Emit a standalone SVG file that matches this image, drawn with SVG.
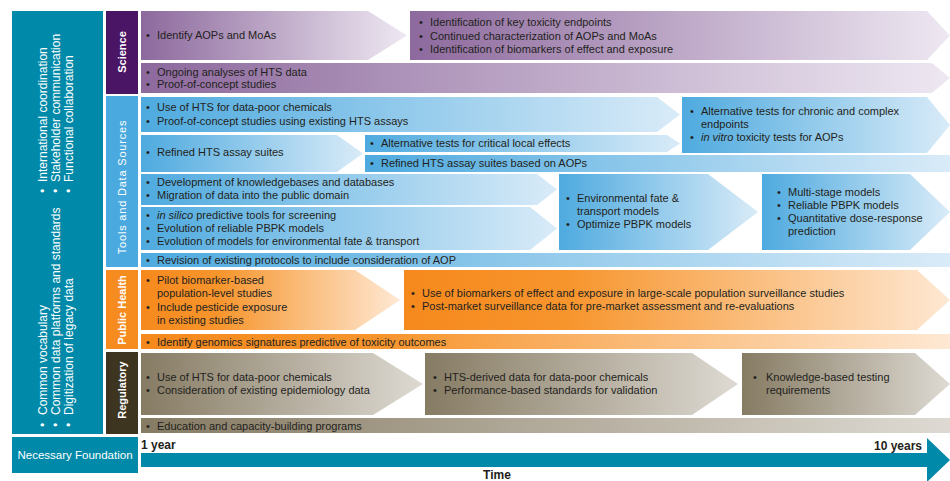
<svg xmlns="http://www.w3.org/2000/svg" width="950" height="481" viewBox="0 0 950 481">
<defs>
<linearGradient id="gPur" x1="0" y1="0" x2="1" y2="0"><stop offset="0" stop-color="#8d699d"/><stop offset="1" stop-color="#eee8f2"/></linearGradient>
<linearGradient id="gBlue" x1="0" y1="0" x2="1" y2="0"><stop offset="0" stop-color="#4eaadf"/><stop offset="1" stop-color="#d9ebf8"/></linearGradient>
<linearGradient id="gOra" x1="0" y1="0" x2="1" y2="0"><stop offset="0" stop-color="#f6891d"/><stop offset="0.3" stop-color="#f7952d"/><stop offset="1" stop-color="#fee8d3"/></linearGradient>
<linearGradient id="gReg" x1="0" y1="0" x2="1" y2="0"><stop offset="0" stop-color="#867b63"/><stop offset="1" stop-color="#dedad3"/></linearGradient>
<style>
text{font-family:"Liberation Sans",Arial,sans-serif;}
.t{font-size:11px;fill:#231f20;}
.w{fill:#ffffff;font-size:12px;}
.cat{fill:#ffffff;font-size:11px;text-anchor:middle;}
.b{font-weight:bold;font-size:12px;fill:#231f20;}
.pur{fill:url(#gPur);}
.blue{fill:url(#gBlue);}
.ora{fill:url(#gOra);}
.reg{fill:url(#gReg);}
.teal{fill:#0089a8;}
</style>
</defs>
<rect width="950" height="481" fill="#ffffff"/>

<g id="foundation-panel">
<rect class="teal" x="12" y="11" width="91" height="423"/>
<g transform="rotate(-90)">
<text class="w" y="47"><tspan x="-193">•</tspan><tspan x="-182">International coordination</tspan></text>
<text class="w" y="60"><tspan x="-193">•</tspan><tspan x="-182">Stakeholder communication</tspan></text>
<text class="w" y="73"><tspan x="-193">•</tspan><tspan x="-182">Functional collaboration</tspan></text>
<text class="w" y="47"><tspan x="-427">•</tspan><tspan x="-415">Common vocabulary</tspan></text>
<text class="w" y="60"><tspan x="-427">•</tspan><tspan x="-415">Common data platforms and standards</tspan></text>
<text class="w" y="73"><tspan x="-427">•</tspan><tspan x="-415">Digitization of legacy data</tspan></text>
</g>
</g>

<g id="necessary-foundation">
<rect class="teal" x="12" y="437" width="126" height="36"/>
<text class="w" x="75" y="459" text-anchor="middle" style="font-size:11.5px">Necessary Foundation</text>
</g>

<g id="cat-science">
<rect x="106" y="11" width="32" height="83" fill="#4a1565"/>
<text class="cat" transform="translate(122,52) rotate(-90)" dy="4" font-weight="bold">Science</text>
</g>
<g id="cat-tools">
<rect x="106" y="96" width="32" height="171" fill="#4aa9de"/>
<text class="cat" transform="translate(122,187) rotate(-90)" dy="4" letter-spacing="0.8">Tools and Data Sources</text>
</g>
<g id="cat-public-health">
<rect x="106" y="270" width="32" height="79" fill="#f68b1f"/>
<text class="cat" transform="translate(122,310) rotate(-90)" dy="4" font-weight="bold">Public Health</text>
</g>
<g id="cat-regulatory">
<rect x="106" y="352" width="32" height="82" fill="#3d3520"/>
<text class="cat" transform="translate(122,390) rotate(-90)" dy="4" font-weight="bold">Regulatory</text>
</g>

<!-- Science -->
<g id="sci-1">
<polygon class="pur" points="141,11 368,11 407,35.5 368,60 141,60"/>
<text class="t" y="39"><tspan x="146">•</tspan><tspan x="157">Identify AOPs and MoAs</tspan></text>
</g>
<g id="sci-2">
<polygon class="pur" points="410,11 927,11 950,35.5 927,60 410,60"/>
<text class="t" y="26"><tspan x="419">•</tspan><tspan x="430">Identification of key toxicity endpoints</tspan></text>
<text class="t" y="39.5"><tspan x="419">•</tspan><tspan x="430">Continued characterization of AOPs and MoAs</tspan></text>
<text class="t" y="53"><tspan x="419">•</tspan><tspan x="430">Identification of biomarkers of effect and exposure</tspan></text>
</g>
<g id="sci-3">
<polygon class="pur" points="141,63 932,63 950,78 932,93 141,93"/>
<text class="t" y="75.5"><tspan x="146">•</tspan><tspan x="157">Ongoing analyses of HTS data</tspan></text>
<text class="t" y="88"><tspan x="146">•</tspan><tspan x="157">Proof-of-concept studies</tspan></text>
</g>

<!-- Tools and Data Sources -->
<g id="tools-1">
<polygon class="blue" points="141,97 657,97 680,114.5 657,132 141,132"/>
<text class="t" y="111"><tspan x="146">•</tspan><tspan x="157">Use of HTS for data-poor chemicals</tspan></text>
<text class="t" y="125"><tspan x="146">•</tspan><tspan x="157">Proof-of-concept studies using existing HTS assays</tspan></text>
</g>
<g id="tools-2">
<polygon class="blue" points="141,135 337,135 363,153.5 337,172 141,172"/>
<text class="t" y="156"><tspan x="146">•</tspan><tspan x="157">Refined HTS assay suites</tspan></text>
</g>
<g id="tools-3">
<polygon class="blue" points="365,135 667,135 680,143.5 667,152 365,152"/>
<text class="t" y="147"><tspan x="370">•</tspan><tspan x="381">Alternative tests for critical local effects</tspan></text>
</g>
<g id="tools-4">
<polygon class="blue" points="682,97 927,97 950,125 927,153 682,153"/>
<text class="t" y="115"><tspan x="690">•</tspan><tspan x="701">Alternative tests for chronic and complex</tspan></text>
<text class="t" y="128"><tspan x="701">endpoints</tspan></text>
<text class="t" y="141"><tspan x="690">•</tspan><tspan x="701" font-style="italic">in vitro</tspan><tspan> toxicity tests for AOPs</tspan></text>
</g>
<g id="tools-5">
<rect class="blue" x="365" y="155" width="585" height="17"/>
<text class="t" y="167"><tspan x="370">•</tspan><tspan x="381">Refined HTS assay suites based on AOPs</tspan></text>
</g>
<g id="tools-6">
<polygon class="blue" points="141,174 537,174 557,189.5 537,205 141,205"/>
<text class="t" y="186"><tspan x="146">•</tspan><tspan x="157">Development of  knowledgebases and databases</tspan></text>
<text class="t" y="199"><tspan x="146">•</tspan><tspan x="157">Migration of data into the public domain</tspan></text>
</g>
<g id="tools-7">
<polygon class="blue" points="141,207 530,207 557,228.5 530,250 141,250"/>
<text class="t" y="219"><tspan x="146">•</tspan><tspan x="157" font-style="italic">in silico</tspan><tspan> predictive tools for screening</tspan></text>
<text class="t" y="232"><tspan x="146">•</tspan><tspan x="157">Evolution of reliable PBPK models</tspan></text>
<text class="t" y="245"><tspan x="146">•</tspan><tspan x="157">Evolution of models for environmental fate &amp; transport</tspan></text>
</g>
<g id="tools-8">
<polygon class="blue" points="559,174 708,174 758,212 708,250 559,250"/>
<text class="t" y="202"><tspan x="566">•</tspan><tspan x="577">Environmental fate &amp;</tspan></text>
<text class="t" y="215"><tspan x="577">transport models</tspan></text>
<text class="t" y="228"><tspan x="566">•</tspan><tspan x="577">Optimize PBPK models</tspan></text>
</g>
<g id="tools-9">
<polygon class="blue" points="762,174 910,174 950,212 910,250 762,250"/>
<text class="t" y="196"><tspan x="777">•</tspan><tspan x="788">Multi-stage models</tspan></text>
<text class="t" y="209"><tspan x="777">•</tspan><tspan x="788">Reliable PBPK models</tspan></text>
<text class="t" y="222"><tspan x="777">•</tspan><tspan x="788">Quantitative dose-response</tspan></text>
<text class="t" y="235"><tspan x="788">prediction</tspan></text>
</g>
<g id="tools-10">
<rect class="blue" x="141" y="253" width="809" height="14"/>
<text class="t" y="263.5"><tspan x="146">•</tspan><tspan x="157">Revision of existing protocols to include consideration of AOP</tspan></text>
</g>

<!-- Public Health -->
<g id="ph-1">
<polygon class="ora" points="141,270 355,270 400,300 355,330 141,330"/>
<text class="t" y="284"><tspan x="146">•</tspan><tspan x="157">Pilot biomarker-based</tspan></text>
<text class="t" y="297"><tspan x="157">population-level studies</tspan></text>
<text class="t" y="311"><tspan x="146">•</tspan><tspan x="157">Include pesticide exposure</tspan></text>
<text class="t" y="324"><tspan x="157">in existing studies</tspan></text>
</g>
<g id="ph-2">
<polygon class="ora" points="404,270 917,270 950,300 917,330 404,330"/>
<text class="t" y="297"><tspan x="411">•</tspan><tspan x="422">Use of biomarkers of effect and exposure in large-scale population surveillance studies</tspan></text>
<text class="t" y="310"><tspan x="411">•</tspan><tspan x="422">Post-market surveillance data for pre-market assessment and re-evaluations</tspan></text>
</g>
<g id="ph-3">
<rect class="ora" x="141" y="334" width="809" height="15"/>
<text class="t" y="346"><tspan x="146">•</tspan><tspan x="157">Identify genomics signatures predictive of toxicity outcomes</tspan></text>
</g>

<!-- Regulatory -->
<g id="reg-1">
<polygon class="reg" points="141,353 373,353 423,384 373,415 141,415"/>
<text class="t" y="381"><tspan x="146">•</tspan><tspan x="157">Use of HTS for data-poor chemicals</tspan></text>
<text class="t" y="394"><tspan x="146">•</tspan><tspan x="157">Consideration of existing epidemiology data</tspan></text>
</g>
<g id="reg-2">
<polygon class="reg" points="425,353 692,353 738,384 692,415 425,415"/>
<text class="t" y="381"><tspan x="433">•</tspan><tspan x="444">HTS-derived data for data-poor chemicals</tspan></text>
<text class="t" y="394"><tspan x="433">•</tspan><tspan x="444">Performance-based standards for validation</tspan></text>
</g>
<g id="reg-3">
<polygon class="reg" points="742,353 915,353 950,384 915,415 742,415"/>
<text class="t" y="381"><tspan x="753">•</tspan><tspan x="766">Knowledge-based testing</tspan></text>
<text class="t" y="394"><tspan x="766">requirements</tspan></text>
</g>
<g id="reg-4">
<rect class="reg" x="141" y="418" width="809" height="15"/>
<text class="t" y="429.5"><tspan x="146">•</tspan><tspan x="157">Education and capacity-building programs</tspan></text>
</g>

<!-- Time axis -->
<g id="connectors">
<polygon class="teal" points="141,453 927,453 927,438 950,460 927,482 927,467 141,467"/>
</g>
<g id="time-labels">
<text class="b" x="141" y="449">1 year</text>
<text class="b" x="922" y="450" text-anchor="end">10 years</text>
<text class="b" x="497" y="479" text-anchor="middle">Time</text>
</g>
</svg>
